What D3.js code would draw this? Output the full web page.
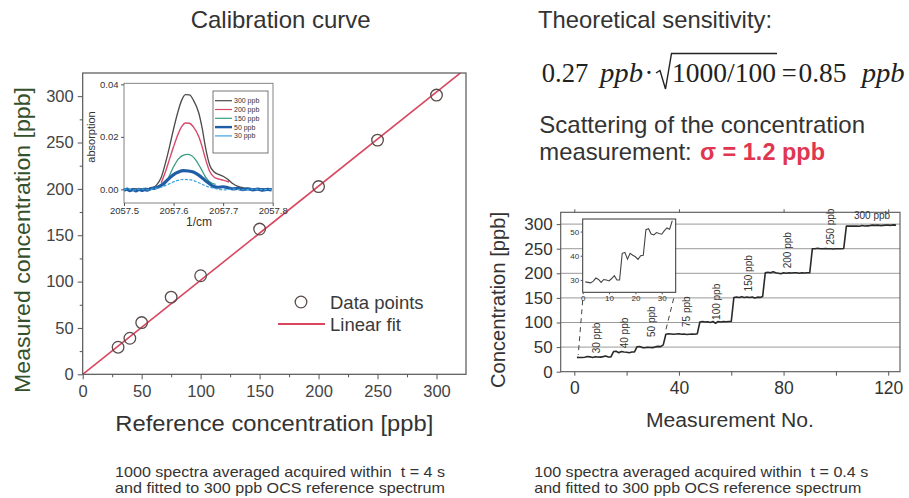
<!DOCTYPE html>
<html><head><meta charset="utf-8">
<script src="https://cdn.jsdelivr.net/npm/d3@7"></script>
<style>
html,body{margin:0;padding:0;background:#fff;}
svg{display:block;font-family:Arial,"Liberation Sans",Helvetica,sans-serif;}
</style></head><body>
<svg id="c" width="909" height="498"></svg>
<script>
// ---------------- DATA ----------------
// Calibration curve (left)
const calRef  = [30, 40, 50, 75, 100, 150, 200, 250, 300];
const calMeas = [29.2, 38.9, 55.8, 83.2, 106.3, 156.7, 202.5, 252.6, 301.2];
const fitSlope = 1.015, fitIntercept = 0;
const calTicks = [0, 50, 100, 150, 200, 250, 300];
const calMinor = [25, 75, 125, 175, 225, 275, 325];
const legendLabels = ["Data points", "Linear fit"];

// Inset spectra (left)
const specNames = ["300 ppb", "200 ppb", "150 ppb", "50 ppb", "30 ppb"];
const spec300 = [[2057.500,0.0002],[2057.510,-0.0002],[2057.520,0.0003],[2057.530,0.0000],[2057.540,0.0004],[2057.550,0.0003],[2057.558,0.0007],[2057.565,0.0015],[2057.575,0.0045],[2057.585,0.0110],[2057.592,0.0164],[2057.600,0.0230],[2057.608,0.0290],[2057.616,0.0338],[2057.624,0.0361],[2057.632,0.0360],[2057.640,0.0340],[2057.651,0.0290],[2057.658,0.0230],[2057.664,0.0164],[2057.673,0.0092],[2057.682,0.0066],[2057.692,0.0056],[2057.700,0.0050],[2057.710,0.0037],[2057.720,0.0021],[2057.730,0.0011],[2057.745,0.0005],[2057.760,0.0002],[2057.775,0.0003],[2057.790,0.0000],[2057.798,0.0001]];
const spec200 = [[2057.575,0.0025],[2057.585,0.0075],[2057.592,0.0116],[2057.600,0.0162],[2057.608,0.0205],[2057.616,0.0238],[2057.624,0.0253],[2057.632,0.0252],[2057.640,0.0238],[2057.651,0.0200],[2057.658,0.0160],[2057.664,0.0118],[2057.673,0.0068],[2057.682,0.0046],[2057.692,0.0039],[2057.700,0.0035],[2057.712,0.0028]];
const spec150 = [[2057.580,0.0012],[2057.590,0.0046],[2057.600,0.0086],[2057.610,0.0116],[2057.620,0.0130],[2057.628,0.0133],[2057.636,0.0129],[2057.645,0.0111],[2057.655,0.0080],[2057.665,0.0046],[2057.675,0.0026],[2057.685,0.0019]];
const spec50 = [[2057.500,-0.0004],[2057.506,0.0001],[2057.512,-0.0005],[2057.518,-0.0001],[2057.524,-0.0006],[2057.530,0.0000],[2057.536,-0.0004],[2057.542,-0.0001],[2057.548,-0.0003],[2057.554,0.0003],[2057.560,0.0004],[2057.570,0.0010],[2057.580,0.0022],[2057.590,0.0040],[2057.600,0.0056],[2057.610,0.0066],[2057.620,0.0071],[2057.630,0.0070],[2057.640,0.0066],[2057.650,0.0055],[2057.660,0.0040],[2057.670,0.0025],[2057.680,0.0012],[2057.690,0.0008],[2057.700,0.0010],[2057.710,0.0006],[2057.720,0.0002],[2057.730,0.0004],[2057.740,-0.0001],[2057.750,0.0002],[2057.760,-0.0002],[2057.770,0.0001],[2057.780,-0.0003],[2057.790,0.0000],[2057.798,-0.0002]];
const spec30 = [[2057.500,0.0000],[2057.510,0.0002],[2057.520,-0.0003],[2057.530,0.0001],[2057.540,0.0001],[2057.550,-0.0002],[2057.560,0.0003],[2057.575,0.0008],[2057.590,0.0020],[2057.605,0.0032],[2057.620,0.0038],[2057.635,0.0036],[2057.650,0.0026],[2057.665,0.0013],[2057.680,0.0005],[2057.700,-0.0002],[2057.720,0.0001],[2057.740,-0.0002],[2057.760,0.0001],[2057.780,-0.0001],[2057.798,0.0000]];
const insetXTicks = [2057.5, 2057.6, 2057.7, 2057.8];
const insetYTicks = [0, 0.02, 0.04];

// Measurement series (right)
const concValues = [29.2,29.0,28.8,29.5,30.8,30.2,29.0,30.2,30.0,29.6,30.6,31.8,30.0,30.0,
  41.0,41.4,38.6,41.0,40.2,39.6,38.5,40.0,40.2,
  50.8,51.2,49.0,48.6,49.6,49.2,48.9,50.4,51.5,51.0,54.5,
  76,77,76.5,76,76.5,77,76,76.5,75.5,76,76.5,76,77,
  101,102,101,101.5,100,102,98.5,102,101,102,101.5,102,102,
  151,152,151,152.5,151,152,151,152,150,151.5,151,153,
  201,202,201,203,201,200,199,201,200,201,200.5,201,201,200,201,200.5,201,201,
  250,250,251,250,250,250.5,250,250,249.5,250,250,250,250.5,
  296,296,296,296,296,295.5,297,296,296.5,297,298,297.5,298,297,297.5,298,298,297.5,298.5,298];
const measTicks = [0, 40, 80, 120];
const measMinor = [20, 60, 100];
const concTicks = [0, 50, 100, 150, 200, 250, 300];
const zoomCount = 34;
const zoomXTicks = [0, 10, 20, 30];
const zoomYTicks = [30, 40, 50];
const stepLabels = ["30 ppb","40 ppb","50 ppb","75 ppb","100 ppb","150 ppb","200 ppb","250 ppb"];
const stepLabelX = [8.6, 19.2, 29.5, 42.9, 54.2, 66.5, 81.5, 98.0];
const stepLabelY = [68.5, 78.7, 101.6, 122, 142, 200, 247, 294.7];
const topLabel = "300 ppb", topLabelX = 113.8, topLabelY = 317;
const connectorPts = [[1.5, 34], [35, 85]];

// ---------------- DRAW ----------------
const svg = d3.select("#c");
svg.append("rect").attr("width",909).attr("height",498).attr("fill","#fff");
const TXT = "#333";

function label(str, x, y, o = {}) {
  const t = svg.append("text").attr("x", x).attr("y", y).text(str)
    .attr("font-size", o.size || 14).attr("fill", o.fill || TXT)
    .attr("text-anchor", o.anchor || "start");
  if (o.family) t.attr("font-family", o.family);
  if (o.weight) t.attr("font-weight", o.weight);
  if (o.style) t.attr("font-style", o.style);
  if (o.pre) t.style("white-space", "pre");
  if (o.len) t.attr("textLength", o.len).attr("lengthAdjust", "spacingAndGlyphs");
  if (o.rotate) t.attr("transform", `rotate(${o.rotate},${x},${y})`);
  return t;
}
function styleAxis(g, size, color) {
  g.select(".domain").remove();
  g.selectAll(".tick line").attr("stroke", "#555").attr("stroke-width", 1);
  g.selectAll(".tick text").attr("font-size", size).attr("fill", color || "#444")
    .attr("font-family", "Arial, 'Liberation Sans', sans-serif");
}

// ===== LEFT: calibration curve =====
const xL = d3.scaleLinear().domain([0, 325]).range([82.7, 466]);
const yL = d3.scaleLinear().domain([0, 325]).range([374.3, 73]);

const gxL = svg.append("g").attr("transform", `translate(0,${yL(0)})`)
  .call(d3.axisBottom(xL).tickValues(calTicks).tickSize(5).tickPadding(6).tickFormat(d3.format("d")));
styleAxis(gxL, 16.5);
const gxLm = svg.append("g").attr("transform", `translate(0,${yL(0)})`)
  .call(d3.axisBottom(xL).tickValues(calMinor.filter(v => v < 325)).tickSize(3).tickFormat(""));
styleAxis(gxLm, 1);
const gyL = svg.append("g").attr("transform", `translate(${xL(0)},0)`)
  .call(d3.axisLeft(yL).tickValues(calTicks).tickSize(5).tickPadding(4).tickFormat(d3.format("d")));
styleAxis(gyL, 16.5);
const gyLm = svg.append("g").attr("transform", `translate(${xL(0)},0)`)
  .call(d3.axisLeft(yL).tickValues(calMinor.filter(v => v < 325)).tickSize(3).tickFormat(""));
styleAxis(gyLm, 1);

svg.append("clipPath").attr("id", "clipL").append("rect")
  .attr("x", xL(0)).attr("y", yL(325)).attr("width", xL(325) - xL(0)).attr("height", yL(0) - yL(325));

// fit line
svg.append("line").attr("clip-path", "url(#clipL)")
  .attr("x1", xL(0)).attr("y1", yL(fitIntercept))
  .attr("x2", xL(325)).attr("y2", yL(fitIntercept + fitSlope * 325))
  .attr("stroke", "#d9475f").attr("stroke-width", 1.6);

// data points
svg.append("g").selectAll("circle").data(calRef).join("circle")
  .attr("cx", (d) => xL(d)).attr("cy", (d, i) => yL(calMeas[i])).attr("r", 5.8)
  .attr("fill", "none").attr("stroke", "#5a4c4a").attr("stroke-width", 1.3);

// frame
svg.append("rect").attr("x", xL(0)).attr("y", yL(325)).attr("width", xL(325) - xL(0))
  .attr("height", yL(0) - yL(325)).attr("fill", "none").attr("stroke", "#555").attr("stroke-width", 1.2);

// legend
svg.append("circle").attr("cx", 301).attr("cy", 302).attr("r", 5.8)
  .attr("fill", "none").attr("stroke", "#5a4c4a").attr("stroke-width", 1.3);
label(legendLabels[0], 330, 308.5, { size: 18.5, fill: "#3a3a3a" });
svg.append("line").attr("x1", 278).attr("x2", 325).attr("y1", 324).attr("y2", 324)
  .attr("stroke", "#d9475f").attr("stroke-width", 1.8);
label(legendLabels[1], 330, 331, { size: 18.5, fill: "#3a3a3a" });

// axis labels & title
label("Calibration curve", 280.7, 28.3, { size: 24, anchor: "middle", len: 180 });
label("Reference concentration [ppb]", 274.3, 430.7, { size: 22, anchor: "middle", len: 318 });
label("Measured concentration [ppb]", 30, 240, { size: 22, anchor: "middle", len: 306, rotate: -90, fill: "#35502c" });

// ----- inset spectra -----
const xI = d3.scaleLinear().domain([2057.5, 2057.8]).range([124, 272.7]);
const yI = d3.scaleLinear().domain([-0.0052, 0.0404]).range([203, 83.3]);
svg.append("rect").attr("x", 124).attr("y", 83.3).attr("width", 273 - 124).attr("height", 203 - 83.3)
  .attr("fill", "#fff").attr("stroke", "#777").attr("stroke-width", 0.9);
const gxI = svg.append("g").attr("transform", "translate(0,203)")
  .call(d3.axisBottom(xI).tickValues(insetXTicks).tickSize(3).tickPadding(1.5).tickFormat(d3.format(".1f")));
styleAxis(gxI, 9.5, "#333");
const gyI = svg.append("g").attr("transform", "translate(124,0)")
  .call(d3.axisLeft(yI).tickValues(insetYTicks).tickSize(3).tickPadding(2.5).tickFormat(d3.format(".2f")));
styleAxis(gyI, 9.5, "#333");
label("1/cm", 199, 226, { size: 12, anchor: "middle" });
label("absorption", 95, 137, { size: 11, anchor: "middle", rotate: -90 });

const specLine = d3.line().x(d => xI(d[0])).y(d => yI(d[1])).curve(d3.curveMonotoneX);
const specSeries = [
  { data: spec300, color: "#4a4a4a", w: 1.3 },
  { data: spec200, color: "#d9476b", w: 1.4 },
  { data: spec150, color: "#3a9c82", w: 1.3 },
  { data: spec50,  color: "#1f5ea6", w: 3.2 },
  { data: spec30,  color: "#3aa4de", w: 1.2, dash: "3,1.5" }
];
const gS = svg.append("g");
specSeries.forEach(s => {
  gS.append("path").attr("d", specLine(s.data)).attr("fill", "none")
    .attr("stroke", s.color).attr("stroke-width", s.w)
    .attr("stroke-dasharray", s.dash || null).attr("stroke-linejoin", "round");
});
// inset legend
svg.append("rect").attr("x", 213).attr("y", 91).attr("width", 55).attr("height", 62)
  .attr("fill", "#fff").attr("stroke", "#555").attr("stroke-width", 0.8);
specNames.forEach((n, i) => {
  const yy = 100.7 + i * 8.8;
  svg.append("line").attr("x1", 215).attr("x2", 232).attr("y1", yy).attr("y2", yy)
    .attr("stroke", specSeries[i].color).attr("stroke-width", i === 3 ? 2.4 : 1.2);
  label(n, 234, yy + 2.4, { size: 7, fill: "#333" });
});

// ===== RIGHT: text =====
label("Theoretical sensitivity:", 538, 28.3, { size: 24, len: 234 });
const SERIF = "'Liberation Serif','Times New Roman',serif";
label("0.27", 541.7, 81.7, { size: 26.5, family: SERIF, fill: "#222", len: 46.6 });
label("ppb", 600, 81.7, { size: 26.5, family: SERIF, style: "italic", fill: "#222", len: 43 });
label("·", 644.5, 81.7, { size: 26.5, family: SERIF, fill: "#222" });
svg.append("path").attr("d", "M656,73 L660,70.5 L665.5,89 L671.5,53.5 L777,53.5")
  .attr("fill", "none").attr("stroke", "#222").attr("stroke-width", 1.4);
label("1000/100", 672, 81.7, { size: 26.5, family: SERIF, fill: "#222", len: 104 });
label("=", 781.7, 81.7, { size: 26.5, family: SERIF, fill: "#222" });
label("0.85", 798.5, 81.7, { size: 26.5, family: SERIF, fill: "#222", len: 48 });
label("ppb", 861.7, 81.7, { size: 26.5, family: SERIF, style: "italic", fill: "#222", len: 43 });
label("Scattering of the concentration", 539.3, 133.3, { size: 24, len: 325.7 });
label("measurement:", 539.3, 160, { size: 24, len: 152.4 });
label("σ = 1.2 ppb", 700, 160, { size: 24, weight: "bold", fill: "#e0364f", len: 125 });

// ===== RIGHT: measurement chart =====
const xR = d3.scaleLinear().domain([-5.2, 124.5]).range([560.7, 900]);
const yR = d3.scaleLinear().domain([0, 324]).range([371.7, 212.3]);

// grid
svg.append("g").selectAll("line").data(concTicks.filter(v => v > 0)).join("line")
  .attr("x1", xR(-5.2)).attr("x2", xR(124.5)).attr("y1", d => yR(d)).attr("y2", d => yR(d))
  .attr("stroke", "#9a9a9a").attr("stroke-width", 1);

const gxR = svg.append("g").attr("transform", `translate(0,${yR(0)})`)
  .call(d3.axisBottom(xR).tickValues(measTicks).tickSize(4).tickPadding(6).tickFormat(d3.format("d")));
styleAxis(gxR, 17.5, "#333");
const gxRm = svg.append("g").attr("transform", `translate(0,${yR(0)})`)
  .call(d3.axisBottom(xR).tickValues(measMinor).tickSize(4).tickFormat(""));
styleAxis(gxRm, 1);
const gxRt = svg.append("g").attr("transform", `translate(0,${yR(324)})`)
  .call(d3.axisTop(xR).tickValues(measTicks).tickSize(3).tickFormat(""));
styleAxis(gxRt, 1);
const gyR = svg.append("g").attr("transform", `translate(${xR(-5.2)},0)`)
  .call(d3.axisLeft(yR).tickValues(concTicks).tickSize(4).tickPadding(4).tickFormat(d3.format("d")));
styleAxis(gyR, 17, "#333");

svg.append("rect").attr("x", xR(-5.2)).attr("y", yR(324)).attr("width", xR(124.5) - xR(-5.2))
  .attr("height", yR(0) - yR(324)).attr("fill", "none").attr("stroke", "#555").attr("stroke-width", 1.1);

// step labels
stepLabels.forEach((s, i) => {
  const x = xR(stepLabelX[i]), y = yR(stepLabelY[i]);
  svg.append("text").attr("transform", `translate(${x},${y}) rotate(-90)`)
    .attr("text-anchor", "middle").attr("dy", "0.35em").attr("font-size", 10).attr("fill", "#333").text(s);
});
label(topLabel, xR(topLabelX), yR(topLabelY) + 3, { size: 10, anchor: "middle" });

// connectors to zoom inset
const zx0 = 582.7, zx1 = 675.7, zy0 = 292.3, zy1 = 219;
svg.append("line").attr("x1", zx0).attr("y1", zy0 + 8).attr("x2", xR(connectorPts[0][0])).attr("y2", yR(connectorPts[0][1]))
  .attr("stroke", "#444").attr("stroke-width", 1).attr("stroke-dasharray", "5,4");
svg.append("line").attr("x1", zx1 - 2).attr("y1", zy0 + 6).attr("x2", xR(connectorPts[1][0])).attr("y2", yR(connectorPts[1][1]))
  .attr("stroke", "#444").attr("stroke-width", 1).attr("stroke-dasharray", "5,4");

// data trace
const measLine = d3.line().x((d, i) => xR(i + 1)).y(d => yR(d));
svg.append("path").attr("d", measLine(concValues)).attr("fill", "none")
  .attr("stroke", "#2a2a2a").attr("stroke-width", 1.6).attr("stroke-linejoin", "round");

// zoom inset
const xZ = d3.scaleLinear().domain([0, 35.3]).range([zx0, zx1]);
const yZ = d3.scaleLinear().domain([24.9, 55.2]).range([zy0, zy1]);
svg.append("rect").attr("x", zx0).attr("y", zy1).attr("width", zx1 - zx0).attr("height", zy0 - zy1)
  .attr("fill", "#fff").attr("stroke", "#333").attr("stroke-width", 1);
const zoomLine = d3.line().x((d, i) => xZ(i + 1)).y(d => yZ(d));
svg.append("path").attr("d", zoomLine(concValues.slice(0, zoomCount))).attr("fill", "none")
  .attr("stroke", "#444").attr("stroke-width", 1.1);
const gxZ = svg.append("g").attr("transform", `translate(0,${zy0})`)
  .call(d3.axisBottom(xZ).tickValues(zoomXTicks).tickSize(2).tickPadding(1).tickFormat(d3.format("d")));
styleAxis(gxZ, 8, "#333");
const gyZ = svg.append("g").attr("transform", `translate(${zx0},0)`)
  .call(d3.axisLeft(yZ).tickValues(zoomYTicks).tickSize(2).tickPadding(1.5).tickFormat(d3.format("d")));
styleAxis(gyZ, 8, "#333");

label("Measurement No.", 730, 427, { size: 20, anchor: "middle", len: 168 });
label("Concentration [ppb]", 505, 300, { size: 20, anchor: "middle", rotate: -90, len: 176 });

// ===== bottom notes =====
const NARROW = "'Liberation Sans Narrow','Arial Narrow',Arial,sans-serif";
label("1000 spectra averaged acquired within  t = 4 s", 115, 477.3, { size: 14.5, family: NARROW, len: 330, pre: true });
label("and fitted to 300 ppb OCS reference spectrum", 115, 492.7, { size: 14.5, family: NARROW, len: 330 });
label("100 spectra averaged acquired within  t = 0.4 s", 534.3, 477.3, { size: 14.5, family: NARROW, len: 334, pre: true });
label("and fitted to 300 ppb OCS reference spectrum", 534.3, 492.7, { size: 14.5, family: NARROW, len: 327 });
</script>
</body></html>
